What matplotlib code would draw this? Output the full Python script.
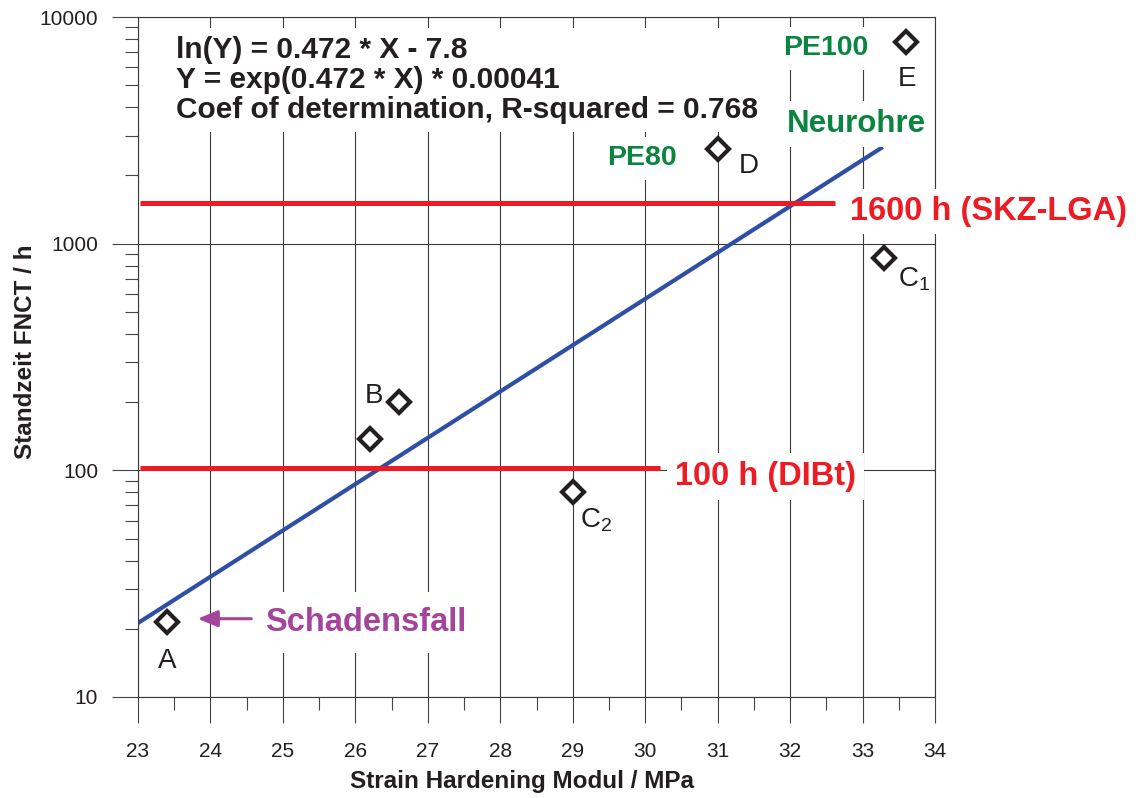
import numpy as np
import matplotlib
matplotlib.use('Agg')
import matplotlib.pyplot as plt
from matplotlib.ticker import MultipleLocator, LogLocator, FuncFormatter, NullFormatter

plt.rcParams['font.family'] = ['Liberation Sans', 'DejaVu Sans']

# measured samples (Strain Hardening Modul / MPa, Standzeit FNCT / h)
sample_x = [23.4, 26.2, 26.6, 29.0, 31.0, 33.3, 33.6]
sample_y = [21.5, 137, 200, 80.5, 2615, 861, 7770]

# regression line end points
fit_x = [23.0, 33.28]
fit_y = [21.2, 2670]

# requirement lines
skz_x = [23.03, 32.62]
skz_y = [1510, 1510]
dibt_x = [23.03, 30.2]
dibt_y = [102, 102]

x_ticks = np.arange(23, 35, 1)
y_ticks = [10, 100, 1000, 10000]

eq_lines = ['ln(Y) = 0.472 * X - 7.8',
            'Y = exp(0.472 * X) * 0.00041',
            'Coef of determination, R-squared = 0.768']

BLUE = '#2f4fa6'
RED = '#ed1c24'
GREEN = '#0a8540'
MAGENTA = '#a4449b'
INK = '#231f20'
GRID = '#3a3a3a'

fig = plt.figure(figsize=(11.42, 7.98), dpi=100)
fig.set_facecolor('white')
ax = fig.add_axes([138 / 1142, 1 - 697 / 798, 797 / 1142, 680 / 798])

ax.set_xlim(23, 34)
ax.set_yscale('log')
ax.set_ylim(10, 10000)

ax.set_xticks(x_ticks)
ax.xaxis.set_minor_locator(MultipleLocator(0.5))
ax.set_yticks(y_ticks)
ax.yaxis.set_major_formatter(FuncFormatter(lambda v, p: '%d' % v))
ax.yaxis.set_minor_locator(LogLocator(base=10, subs=np.arange(2, 10)))
ax.yaxis.set_minor_formatter(NullFormatter())

ax.tick_params(which='major', direction='out', length=18.7, width=0.8, color='#444444',
               labelsize=15, labelcolor=INK)
ax.tick_params(axis='x', which='major', pad=14)
ax.tick_params(axis='y', which='major', pad=10)
ax.tick_params(which='minor', direction='out', length=9.4, width=0.8, color='#444444')

for s in ax.spines.values():
  s.set_linewidth(0.8)
  s.set_color(GRID)

ax.grid(True, which='major', color=GRID, linewidth=0.8)
ax.set_axisbelow(True)

ax.set_xlabel('Strain Hardening Modul / MPa', fontsize=17.5, fontweight='bold', color=INK)
ax.xaxis.set_label_coords(0.4824, -0.108)
ax.set_ylabel('Standzeit FNCT / h', fontsize=17.5, fontweight='bold', color=INK)
ax.yaxis.set_label_coords(-0.127, 0.507)

# lines
ax.plot(fit_x, fit_y, color=BLUE, linewidth=3.0, solid_capstyle='butt', zorder=2)
ax.plot(skz_x, skz_y, color=RED, linewidth=3.6, solid_capstyle='butt', zorder=2)
ax.plot(dibt_x, dibt_y, color=RED, linewidth=3.6, solid_capstyle='butt', zorder=2)

ax.plot(sample_x, sample_y, linestyle='none', marker='D', markersize=11.5,
        markerfacecolor='white', markeredgecolor=INK, markeredgewidth=3.0,
        zorder=6, clip_on=False)

white = lambda p: dict(boxstyle='square,pad=%s' % p, facecolor='white', edgecolor='none')

# equation block
ax.text(0.0477, (697 - 36) / 680, '\n'.join(eq_lines), transform=ax.transAxes,
        fontsize=21.5, fontweight='bold', color=INK, ha='left', va='top',
        linespacing=1.09, bbox=white(0.27), zorder=3)

# limit labels
ax.text(32.83, 1271, '1600 h (SKZ-LGA)', fontsize=23.5, fontweight='bold', color=RED,
        ha='left', va='baseline', bbox=white(0.22), zorder=3, clip_on=False)
ax.text(30.41, 86, '100 h (DIBt)', fontsize=23.5, fontweight='bold', color=RED,
        ha='left', va='baseline', bbox=white(0.25), zorder=3)

# pipe grades
ax.text(31.90, 6790, 'PE100', fontsize=20.5, fontweight='bold', color=GREEN,
        ha='left', va='baseline', bbox=white(0.3), zorder=3)
ax.text(31.95, 3116, 'Neurohre', fontsize=22.5, fontweight='bold', color=GREEN,
        ha='left', va='baseline', bbox=white(0.25), zorder=3)
ax.text(29.48, 2222, 'PE80', fontsize=20.5, fontweight='bold', color=GREEN,
        ha='left', va='baseline', bbox=white(0.3), zorder=3)

# damage case
ax.text(24.76, 19.55, 'Schadensfall', fontsize=23.5, fontweight='bold', color=MAGENTA,
        ha='left', va='baseline', bbox=white(0.45), zorder=3)
ax.annotate('', xy=(23.824, 22.15), xytext=(24.564, 22.15),
            arrowprops=dict(arrowstyle='-|>,head_length=0.6,head_width=0.25',
                            color=MAGENTA, lw=2.2, mutation_scale=20,
                            shrinkA=0, shrinkB=0), zorder=4)

# sample letters
sample_labels = [('A', 23.40, 13.39, 'center'),
                 ('B', 26.257, 197.5, 'center'),
                 ('C$_{\\mathregular{2}}$', 29.095, 56.4, 'left'),
                 ('D', 31.43, 2055, 'center'),
                 ('C$_{\\mathregular{1}}$', 33.49, 650, 'left'),
                 ('E', 33.607, 4955, 'center')]
for txt, lx, ly, ha in sample_labels:
  ax.text(lx, ly, txt, fontsize=20, color=INK, ha=ha, va='baseline', zorder=5)

plt.savefig('out.png', dpi=100)
